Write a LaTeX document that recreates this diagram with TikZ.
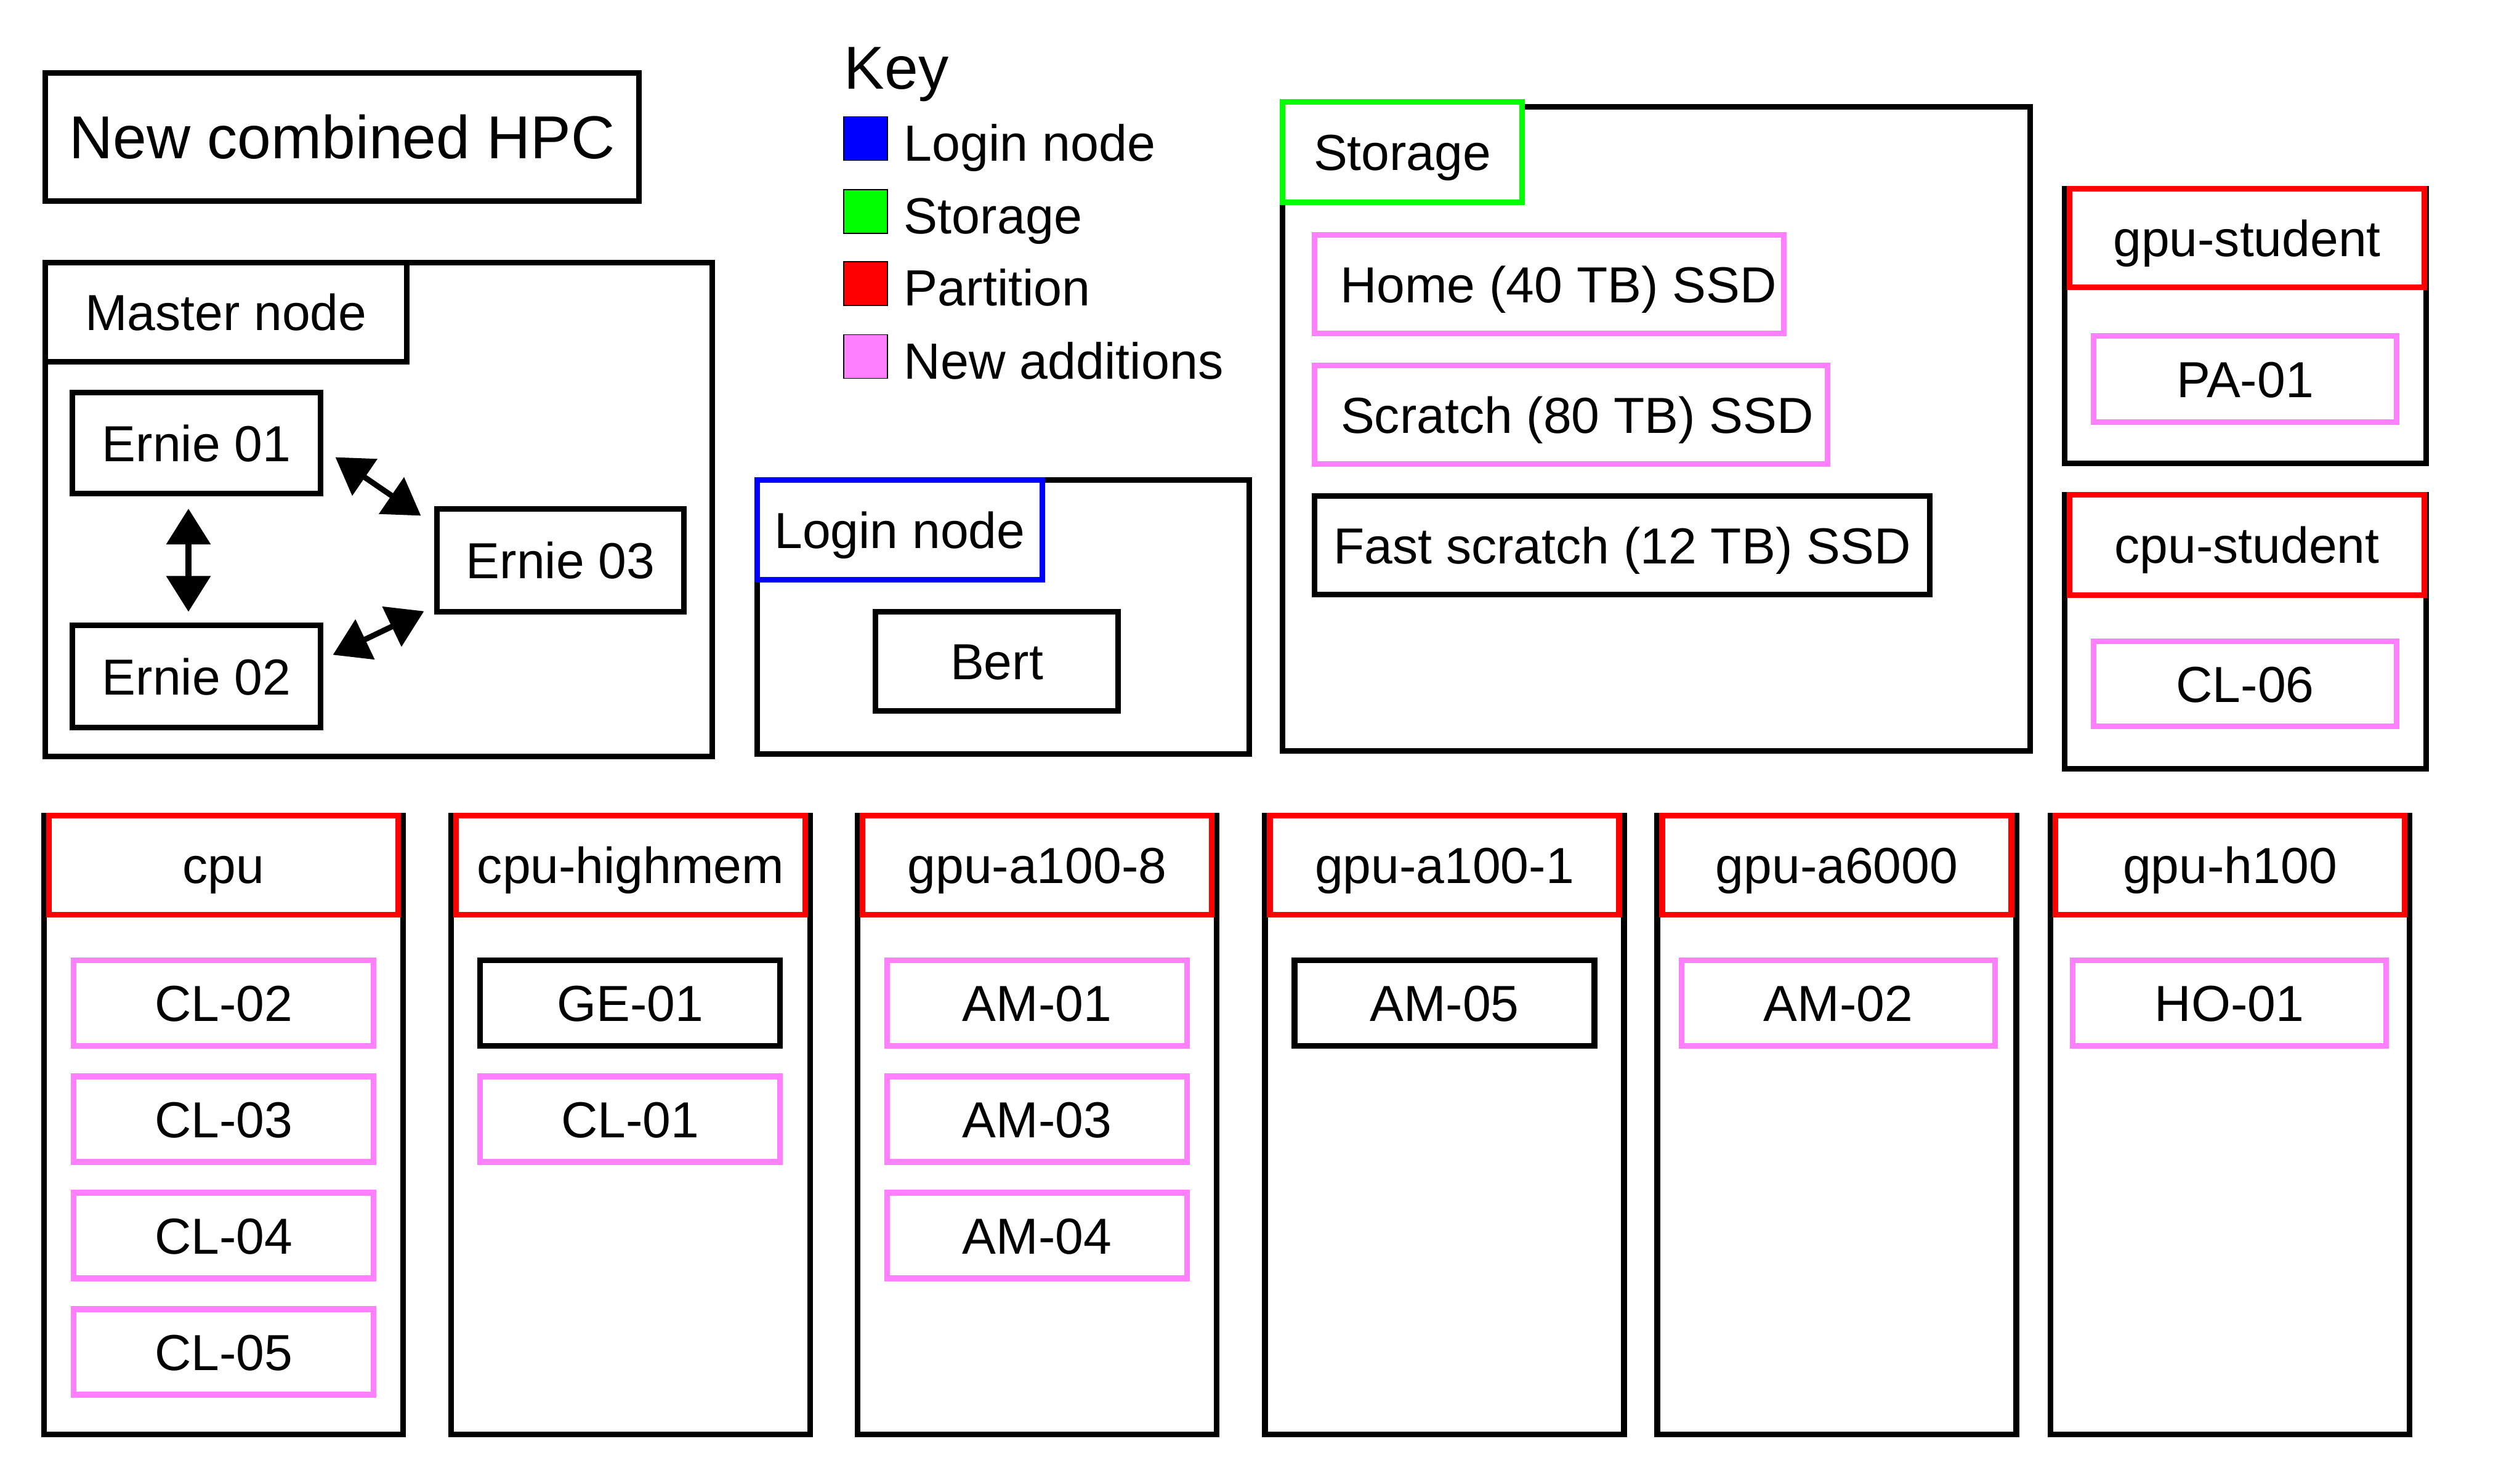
\documentclass[tikz,border=0pt]{standalone}
\usepackage{fontspec}
\setmainfont{Liberation Sans}
\usetikzlibrary{arrows.meta}
\definecolor{log_blue}{RGB}{0, 0, 255}
\definecolor{sto_green}{RGB}{0, 255, 0}
\definecolor{part_red}{RGB}{255, 0, 0}
\definecolor{new_pink}{RGB}{255, 128, 255}
\tikzstyle{box}=[rectangle,draw=black,fill=white,line width=2.6pt,inner sep=0pt,
  font=\fontsize{23.4}{28}\selectfont,text height=16.8pt,text depth=0pt]
\tikzstyle{part}=[box,draw=part_red]
\tikzstyle{newb}=[box,draw=new_pink]
\tikzstyle{logb}=[box,draw=log_blue]
\tikzstyle{stob}=[box,draw=sto_green]
\tikzstyle{col}=[box,minimum width=5.83cm,minimum height=10.05cm]
\tikzstyle{colhead}=[part,minimum width=5.67cm,minimum height=1.61cm]
\tikzstyle{cell}=[minimum width=4.87cm,minimum height=1.39cm]
\tikzstyle{keysq}=[rectangle,draw=black,line width=0.4pt,minimum size=0.71cm,inner sep=0pt]
\tikzstyle{keytxt}=[anchor=base west,inner sep=0pt,font=\fontsize{23.5}{28}\selectfont]
\tikzstyle{dbl}=[{Triangle[length=16.5pt,width=20pt]}-{Triangle[length=16.5pt,width=20pt]},line width=2.6pt]

\begin{document}
\begin{tikzpicture}
    \useasboundingbox (0,0) rectangle (40.87,-24.09);
    % title
    \node [box,minimum width=9.64cm,minimum height=2.08cm,font=\fontsize{28}{33}\selectfont,text height=20pt] (title) at (5.555,-2.225) {New combined HPC};
    % master node
    \node [box,minimum width=10.83cm,minimum height=8.02cm] (master) at (6.15,-8.275) {};
    \node [box,minimum width=5.87cm,minimum height=1.61cm] (mhead) at (3.67,-5.07) {Master node};
    \node [box,minimum width=4.03cm,minimum height=1.64cm] (e1) at (3.19,-7.195) {Ernie 01};
    \node [box,minimum width=4.03cm,minimum height=1.66cm] (e2) at (3.19,-10.985) {Ernie 02};
    \node [box,minimum width=4.01cm,minimum height=1.67cm] (e3) at (9.10,-9.10) {Ernie 03};
    \draw [dbl] ([shift={(-0.13,-0.2)}]e1.south) to ([shift={(-0.13,0.175)}]e2.north);
    \draw [dbl] ([shift={(0.195,-0.23)}]e1.east) to ([shift={(-0.215,-0.155)}]e3.north west);
    \draw [dbl] ([shift={(0.155,-0.525)}]e2.north east) to ([shift={(-0.165,0.055)}]e3.south west);
    % key
    \node [anchor=base west,inner sep=0pt,font=\fontsize{28}{33}\selectfont] (key) at (13.70,-1.44) {Key};
    \node [keysq,fill=log_blue] (k1) at (14.055,-2.25) {};
    \node [keysq,fill=sto_green] (k2) at (14.055,-3.435) {};
    \node [keysq,fill=part_red] (k3) at (14.055,-4.605) {};
    \node [keysq,fill=new_pink] (k4) at (14.055,-5.79) {};
    \node [keytxt] (k1t) at (14.67,-2.61) {Login node};
    \node [keytxt] (k2t) at (14.67,-3.79) {Storage};
    \node [keytxt] (k3t) at (14.67,-4.96) {Partition};
    \node [keytxt] (k4t) at (14.67,-6.15) {New additions};
    % login node
    \node [box,minimum width=7.99cm,minimum height=4.45cm] (login) at (16.29,-10.02) {};
    \node [logb,minimum width=4.63cm,minimum height=1.62cm] (lhead) at (14.61,-8.605) {Login node};
    \node [box,minimum width=3.94cm,minimum height=1.61cm] (bert) at (16.185,-10.74) {Bert};
    % storage
    \node [box,minimum width=12.14cm,minimum height=10.46cm] (storage) at (26.895,-6.965) {};
    \node [stob,minimum width=3.89cm,minimum height=1.63cm] (shead) at (22.77,-2.47) {Storage};
    \node [newb,minimum width=7.62cm,minimum height=1.60cm] (home) at (25.155,-4.615) {\hspace{0.3cm}Home (40 TB) SSD};
    \node [newb,minimum width=8.33cm,minimum height=1.60cm] (scratch) at (25.51,-6.735) {\hspace{0.2cm}Scratch (80 TB) SSD};
    \node [box,minimum width=9.99cm,minimum height=1.60cm] (fast) at (26.34,-8.855) {Fast scratch (12 TB) SSD};
    % student partitions
    \node [box,minimum width=5.87cm,minimum height=4.46cm] (gstu) at (36.46,-5.295) {};
    \node [part,minimum width=5.76cm,minimum height=1.60cm] (gstuh) at (36.485,-3.865) {gpu-student};
    \node [newb,minimum width=4.92cm,minimum height=1.40cm] (pa1) at (36.455,-6.155) {PA-01};
    \node [box,minimum width=5.87cm,minimum height=4.45cm] (cstu) at (36.46,-10.26) {};
    \node [part,minimum width=5.76cm,minimum height=1.63cm] (cstuh) at (36.485,-8.85) {cpu-student};
    \node [newb,minimum width=4.92cm,minimum height=1.38cm] (cl6) at (36.455,-11.105) {CL-06};
    % cpu
    \node [col] (cpu) at (3.63,-18.27) {};
    \node [colhead] (cpuh) at (3.63,-14.05) {cpu};
    \node [newb,cell] (cl2) at (3.63,-16.29) {CL-02};
    \node [newb,cell] (cl3) at (3.63,-18.175) {CL-03};
    \node [newb,cell] (cl4) at (3.63,-20.065) {CL-04};
    \node [newb,cell] (cl5) at (3.63,-21.955) {CL-05};
    % cpu-highmem
    \node [col] (hmem) at (10.24,-18.27) {};
    \node [colhead] (hmemh) at (10.24,-14.05) {cpu-highmem};
    \node [box,cell] (ge1) at (10.23,-16.29) {GE-01};
    \node [newb,cell] (cl1) at (10.23,-18.175) {CL-01};
    % gpu-a100-8
    \node [col] (a8) at (16.84,-18.27) {};
    \node [colhead] (a8h) at (16.84,-14.05) {gpu-a100-8};
    \node [newb,cell] (am1) at (16.84,-16.29) {AM-01};
    \node [newb,cell] (am3) at (16.84,-18.175) {AM-03};
    \node [newb,cell] (am4) at (16.84,-20.065) {AM-04};
    % gpu-a100-1
    \node [col] (a1) at (23.455,-18.27) {};
    \node [colhead] (a1h) at (23.455,-14.05) {gpu-a100-1};
    \node [box,cell] (am5) at (23.455,-16.29) {AM-05};
    % gpu-a6000
    \node [col] (a6) at (29.825,-18.27) {};
    \node [colhead] (a6h) at (29.825,-14.05) {gpu-a6000};
    \node [newb,cell,minimum width=5.09cm] (am2) at (29.85,-16.29) {AM-02};
    % gpu-h100
    \node [col] (h1) at (36.21,-18.27) {};
    \node [colhead] (h1h) at (36.21,-14.05) {gpu-h100};
    \node [newb,cell,minimum width=5.09cm] (ho1) at (36.20,-16.29) {HO-01};
  \end{tikzpicture}
\end{document}
